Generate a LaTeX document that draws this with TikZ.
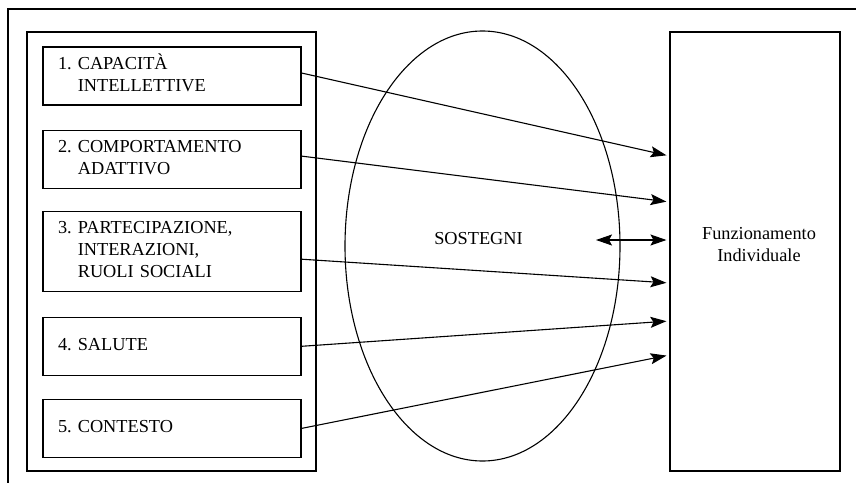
\documentclass[tikz,border=0pt]{standalone}
\usepackage{fontspec}
\setmainfont{Liberation Serif}
\usetikzlibrary{positioning, shapes.geometric, arrows.meta}

\newcommand{\numitem}[2]{#1\ \begin{tabular}[t]{@{}l@{}}#2\end{tabular}}

\begin{document}
\begin{tikzpicture}[x=1pt, y=1pt, line width=1.1pt,
    font=\fontsize{18.3}{21.7}\selectfont,
    >={Stealth[length=16pt, width=11pt, inset=3pt]},
    box/.style={draw, rectangle, minimum width=258pt, minimum height=58pt, text width=228pt, inner xsep=15pt, align=left},
    tall/.style={draw, rectangle, minimum height=439pt},
    flow/.style={->, shorten >=3pt}]
        \useasboundingbox (0,0) rectangle (856,483);
        \draw (856,474) -- (8,474) -- (8,0);

        \node[tall, minimum width=289pt] (L) at (171.5,231.5) {};
        \node[tall, minimum width=170pt, label={[align=center, shift={(4pt,7pt)}]center:Funzionamento\\Individuale}] (F) at (755,231.5) {};
        \node[draw, ellipse, minimum width=275pt, minimum height=430pt, inner sep=0pt, label={[shift={(-4pt,7pt)}]center:SOSTEGNI}] (S) at (482.5,237) {};

        \node[box] (C1) at (172,407) {\numitem{1.}{CAPACITÀ\\INTELLETTIVE}};
        \node[box, below=24pt of C1] (C2) {\numitem{2.}{COMPORTAMENTO\\ADATTIVO}};
        \node[box, minimum height=80pt, below=22pt of C2] (C3) {\numitem{3.}{PARTECIPAZIONE,\\INTERAZIONI,\\RUOLI SOCIALI}};
        \node[box, below=25pt of C3] (C4) {\numitem{4.}{SALUTE}};
        \node[box, below=23pt of C4] (C5) {\numitem{5.}{CONTESTO}};
        \coordinate (B) at (596,243);

        \draw[flow] ([yshift=3pt]C1.east) -- ([yshift=95.5pt]F.west);
        \draw[flow] ([yshift=3pt]C2.east) -- ([yshift=49.5pt]F.west);
        \draw[flow] ([yshift=-8pt]C3.east) -- ([yshift=-31.5pt]F.west);
        \draw[flow] (C4.east) -- ([yshift=-69.5pt]F.west);
        \draw[flow] (C5.east) -- ([yshift=-103.5pt]F.west);
        \draw[flow, <->] (B) -- ([yshift=11.5pt]F.west);
    \end{tikzpicture}
\end{document}
